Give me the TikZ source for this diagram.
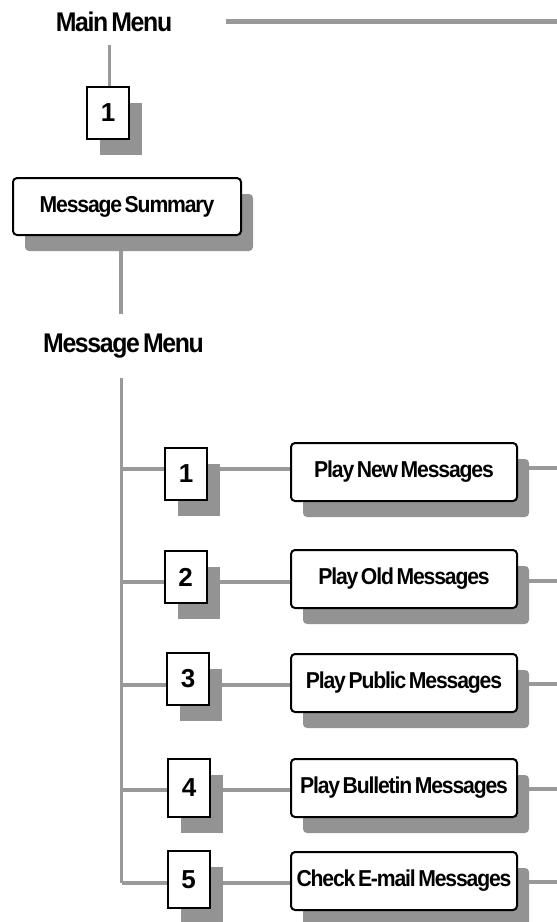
\documentclass[tikz,border=0pt]{standalone}
\usepackage{fontspec}
\newfontfamily\menufont[FakeStretch=0.92,LetterSpace=-5,WordSpace=0.55]{Liberation Sans}
\newfontfamily\keyfont{Liberation Sans}
\usetikzlibrary{shadows,backgrounds}
\definecolor{shadowgray}{HTML}{939393}
\definecolor{linegray}{HTML}{999999}
\tikzset{
    heading/.style={inner sep=0pt, font=\menufont\bfseries\fontsize{27}{27}\selectfont},
    keybox/.style={draw, line width=2pt, fill=white, inner sep=0pt,
        minimum width=42pt, minimum height=52pt,
        font=\keyfont\bfseries\fontsize{26}{26}\selectfont,
        drop shadow={shadow xshift=13pt, shadow yshift=-16pt, fill=shadowgray, opacity=1}},
    actionbox/.style={draw, line width=2pt, rounded corners=4pt, fill=white, inner sep=0pt,
        minimum width=226pt, minimum height=58pt,
        font=\menufont\bfseries\fontsize{23}{23}\selectfont,
        drop shadow={shadow xshift=12pt, shadow yshift=-16pt, fill=shadowgray, opacity=1}},
    link/.style={draw=linegray, line width=3.5pt}
}
\begin{document}
\begin{tikzpicture}[x=1pt, y=-1pt]
        \useasboundingbox (0,0) rectangle (557,922);
        % main menu
        \node[heading] (mainmenu) at (114,22) {Main Menu};
        \coordinate (topline) at (226,21.5);
        \coordinate (topend) at (557,21.5);
        \coordinate (mmstub) at (109.5,45);
        \node[keybox] (key0) at (108,113) {1};
        % message summary
        \node[actionbox, minimum width=228pt, minimum height=57pt] (summary) at (127,206.5) {Message Summary};
        \coordinate (sumstub) at (121,314);
        % message menu
        \node[heading] (msgmenu) at (123.5,346) {Message Menu};
        \coordinate (trunktop) at (121.5,378);
        % menu keys
        \node[keybox] (key1) at (186,473.5) {1};
        \node[keybox] (key2) at (185.5,577) {2};
        \node[keybox] (key3) at (188,679) {3};
        \node[keybox, minimum height=58pt] (key4) at (189,787.5) {4};
        \node[keybox, minimum height=57pt] (key5) at (188.5,879.5) {5};
        % menu actions
        \node[actionbox] (play1) at (404,472) {Play New Messages};
        \node[actionbox] (play2) at (404,579) {Play Old Messages};
        \node[actionbox] (play3) at (404,683) {Play Public Messages};
        \node[actionbox] (play4) at (404,788) {Play Bulletin Messages};
        \node[actionbox] (play5) at (404,881) {Check E-mail Messages};
        % branch points on the trunk and loose ends at the edge
        \coordinate (b1) at (121.5,469);
        \coordinate (b2) at (121.5,582);
        \coordinate (b3) at (121.5,685);
        \coordinate (b4) at (121.5,790);
        \coordinate (b5) at (121.5,883);
        \coordinate (e1) at (557,468);
        \coordinate (e2) at (557,581);
        \coordinate (e3) at (557,684);
        \coordinate (e4) at (557,789);
        \coordinate (e5) at (557,882);
        \begin{scope}[on background layer]
            % top links
            \draw[link, line width=5pt] (topline) -- (topend);
            \draw[link] (mmstub) -- (key0.north -| mmstub);
            \draw[link] (sumstub |- summary.south) -- (sumstub);
            % trunk
            \draw[link] (trunktop) -- (b5);
            % rows
            \draw[link] (b1) -- (key1.west |- b1);
            \draw[link] (key1.east |- b1) -- (play1.west |- b1);
            \draw[link] (play1.east |- e1) -- (e1);
            \draw[link] (b2) -- (key2.west |- b2);
            \draw[link] (key2.east |- b2) -- (play2.west |- b2);
            \draw[link] (play2.east |- e2) -- (e2);
            \draw[link] (b3) -- (key3.west |- b3);
            \draw[link] (key3.east |- b3) -- (play3.west |- b3);
            \draw[link] (play3.east |- e3) -- (e3);
            \draw[link] (b4) -- (key4.west |- b4);
            \draw[link] (key4.east |- b4) -- (play4.west |- b4);
            \draw[link] (play4.east |- e4) -- (e4);
            \draw[link] (b5) -- (key5.west |- b5);
            \draw[link] (key5.east |- b5) -- (play5.west |- b5);
            \draw[link] (play5.east |- e5) -- (e5);
        \end{scope}
    \end{tikzpicture}
\end{document}
